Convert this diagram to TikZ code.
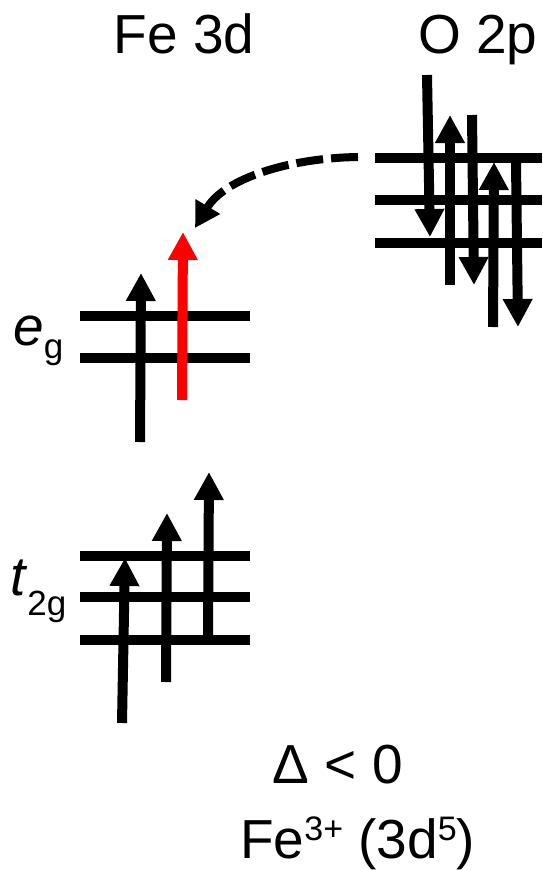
\documentclass[tikz,border=0pt]{standalone}
\usepackage{fontspec}
\setmainfont{Liberation Sans}
\usetikzlibrary{arrows.meta}
\definecolor{spinred}{RGB}{255,0,0}
\begin{document}
\begin{tikzpicture}[x=1pt,y=-1pt,
  level/.style={line width=10pt},
  spin/.style={line width=10pt,-{Triangle[width=28pt,length=28pt]}},
  lbl/.style={inner sep=0pt,anchor=base},
  big/.style={font=\fontsize{55}{62}\selectfont}]
\useasboundingbox (0,0) rectangle (542,870);
% titles
\node[lbl,big] (fe) at (184,53) {Fe 3d};
\node[lbl,big] (o) at (478,53) {O 2p};
% e_g levels
\draw[level] (80,316) -- (250,316);
\draw[level] (80,358) -- (250,358);
% t2g levels
\draw[level] (80,556) -- (250,556);
\draw[level] (80,597) -- (250,597);
\draw[level] (80,640) -- (250,640);
% O 2p levels
\draw[level] (375,158) -- (542,158);
\draw[level] (375,200) -- (542,200);
\draw[level] (375,243) -- (542,243);
% eg spins
\draw[spin] (140,442) -- (141,273);
\draw[spin,spinred] (182,400) -- (183,232);
% t2g spins
\draw[spin] (122,723) -- (125,558);
\draw[spin] (166,682) -- (167,513);
\draw[spin] (208,635) -- (209,472);
% O 2p spins
\draw[spin] (427,75) -- (430,237);
\draw[spin] (450,285) -- (450,115);
\draw[spin] (472,115) -- (474,285);
\draw[spin] (493,327) -- (494,162);
\draw[spin] (516,162) -- (518,327);
% charge transfer
\coordinate (ctstart) at (358,157);
\coordinate (ctend) at (195,228);
\draw[line width=8pt,dash pattern=on 27pt off 8pt,-{Triangle[width=27pt,length=25pt]}]
  (ctstart) .. controls (290,158) and (225,178) .. (ctend);
% level labels
\node[lbl,anchor=base west,big] (eg) at (13,345) {\textit{e}\raisebox{-13pt}{\fontsize{35}{35}\selectfont g}};
\node[lbl,anchor=base west,big] (t2g) at (10,595) {\textit{t}\raisebox{-20pt}{\fontsize{35}{35}\selectfont 2g}};
% bottom texts
\node[lbl,big] (delta) at (338,783) {Δ < 0};
\node[lbl,anchor=base west,big] (config) at (240,858) {Fe\raisebox{18pt}{\fontsize{34}{34}\selectfont 3+} (3d\raisebox{18pt}{\fontsize{34}{34}\selectfont 5})};
\end{tikzpicture}
\end{document}
